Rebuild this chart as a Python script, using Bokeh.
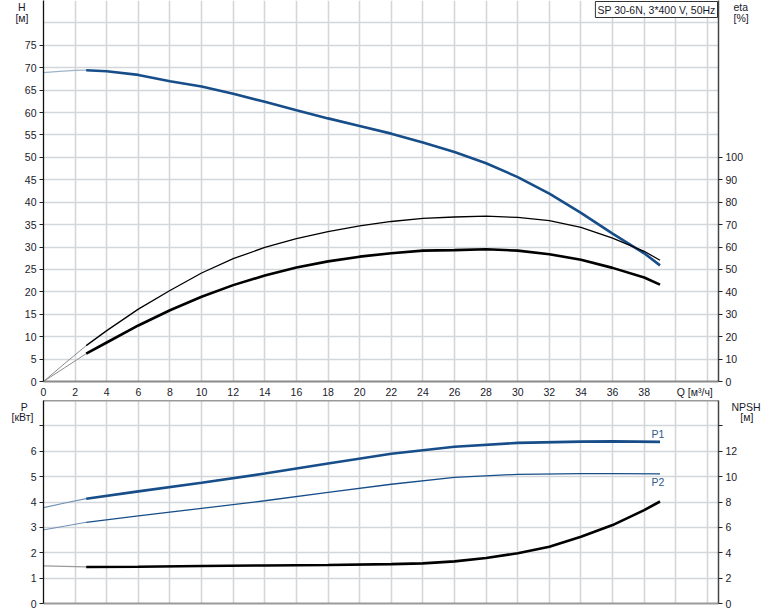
from bokeh.plotting import figure
from bokeh.models import Range1d, LinearAxis, FixedTicker, Label
from bokeh.layouts import column
from bokeh.embed import file_html
from bokeh.resources import INLINE

FONT = "Liberation Sans"
FS = "10.5px"
BLUE = "#174e89"
TXT = "#1a1a2a"
NB = "\u00a0"

# ---------------- data ----------------
# Head H [m] vs Q [m3/h]
q_h_ext = [0, 1, 2, 2.7]
h_ext = [68.9, 69.2, 69.4, 69.45]
q_h = [2.7, 4, 6, 8, 10, 12, 14, 16, 18, 20, 22, 24, 26, 28, 30, 32, 34, 36, 38, 39]
h = [69.45, 69.2, 68.4, 67.0, 65.8, 64.2, 62.4, 60.5, 58.7, 57.0, 55.3, 53.3,
     51.2, 48.7, 45.6, 41.9, 37.6, 33.0, 28.6, 25.9]

# pump efficiency eta [%] (thin)
q_eta_ext = [0, 1.35, 2.7]
eta_p_ext = [0, 8.1, 16.0]
q_eta = [2.7, 4, 6, 8, 10, 12, 14, 16, 18, 20, 22, 24, 26, 28, 30, 32, 34, 36, 38, 39]
eta_p = [16.0, 22.7, 32.3, 40.6, 48.4, 54.8, 59.8, 63.8, 66.9, 69.4, 71.4, 72.8,
         73.4, 73.8, 73.2, 71.8, 68.8, 64.0, 58.1, 54.1]
# total efficiency eta [%] (thick)
eta_t_ext = [0, 6.2, 12.4]
eta_t = [12.4, 17.4, 25.0, 31.8, 37.8, 43.0, 47.3, 50.9, 53.6, 55.7, 57.2, 58.4,
         58.6, 59.0, 58.4, 56.8, 54.3, 50.7, 46.4, 43.2]

# power P [kW]
q_p_ext = [0, 1.35, 2.7]
p1_ext = [3.78, 3.96, 4.13]
p2_ext = [2.9, 3.05, 3.2]
q_p = [2.7, 6, 10, 14, 18, 22, 26, 30, 34, 36, 39]
p1 = [4.13, 4.42, 4.76, 5.12, 5.52, 5.90, 6.18, 6.33, 6.38, 6.39, 6.37]
p2 = [3.2, 3.45, 3.75, 4.05, 4.38, 4.70, 4.97, 5.09, 5.12, 5.12, 5.11]

# NPSH [m]
q_n_ext = [0, 1.35, 2.7]
npsh_ext = [2.96, 2.92, 2.88]
q_n = [2.7, 6, 10, 14, 18, 22, 24, 26, 28, 30, 32, 34, 36, 38, 39]
npsh = [2.88, 2.9, 2.96, 3.0, 3.04, 3.1, 3.16, 3.32, 3.58, 3.96, 4.48, 5.26,
        6.18, 7.36, 8.04]

# ticks / labels
q_grid = list(range(0, 43, 2))
q_ticks = list(range(0, 39, 2))
h_ticks = list(range(0, 80, 5))
h_grid = list(range(0, 81, 5))
eta_ticks = list(range(0, 101, 10))
p_ticks = list(range(0, 8))
npsh_ticks = list(range(0, 15, 2))

q_label = "Q [м³/ч]"
h_label, h_unit = "H", "[м]"
eta_label, eta_unit = "eta", "[%]"
p_label, p_unit = "P", "[кВт]"
n_label, n_unit = "NPSH", "[м]"
title_text = "SP 30-6N, 3*400 V, 50Hz"

Q_MAX = 42.7
H_MAX = 85
P_MAX = 8


def style_axis(ax, line_color, line_width, tick_out=4):
    ax.axis_line_color = line_color
    ax.axis_line_width = line_width
    ax.major_tick_line_color = "#222222"
    ax.major_tick_out = tick_out
    ax.major_tick_in = 0
    ax.minor_tick_line_color = None
    ax.major_label_text_font = FONT
    ax.major_label_text_font_size = FS
    ax.major_label_text_color = TXT
    ax.major_label_standoff = 3


def name_axis(ticks, labels, standoff, range_name=None):
    kw = {"y_range_name": range_name} if range_name else {}
    ax = LinearAxis(ticker=FixedTicker(ticks=ticks), **kw)
    style_axis(ax, None, 1, tick_out=0)
    ax.major_tick_line_color = None
    ax.major_label_overrides = dict(zip(ticks, labels))
    ax.major_label_standoff = standoff
    return ax


XR = Range1d(0, Q_MAX)

# ---------------- top figure ----------------
pt = figure(width=774, height=400, x_range=XR, y_range=Range1d(0, H_MAX),
            output_backend="svg", toolbar_location=None,
            min_border_left=43, min_border_right=56, min_border_top=0,
            min_border_bottom=19)
pt.extra_y_ranges = {"eta": Range1d(0, 2 * H_MAX)}
pt.outline_line_color = None
pt.background_fill_color = "white"
pt.border_fill_color = "white"

for g in pt.xgrid:
    g.ticker = FixedTicker(ticks=q_grid)
for g in pt.ygrid:
    g.ticker = FixedTicker(ticks=h_grid)
pt.grid.grid_line_color = "#d4d7d9"
pt.grid.grid_line_width = 1.6

xa = pt.xaxis[0]
xa.ticker = FixedTicker(ticks=q_ticks + [41.2])
xa.major_label_overrides = {41.2: q_label}
style_axis(xa, "#8a8a8a", 2.2, tick_out=0)
xa.major_label_standoff = 4

ya = pt.yaxis[0]
ya.ticker = FixedTicker(ticks=h_ticks)
style_axis(ya, "#111111", 1.3)
pt.add_layout(name_axis([83.9, 81.2], [h_label + NB, h_unit], -7), "left")

ea = LinearAxis(y_range_name="eta", ticker=FixedTicker(ticks=eta_ticks))
style_axis(ea, "#444444", 1.5)
pt.add_layout(ea, "right")
pt.add_layout(name_axis([167.8, 162.4], [eta_label, eta_unit], -13, "eta"), "right")

pt.line(q_h_ext, h_ext, line_color="#9fb3c8", line_width=1.2)
pt.line(q_h, h, line_color=BLUE, line_width=2.6)
pt.line(q_eta_ext, eta_p_ext, y_range_name="eta", line_color="#8c8c8c", line_width=1)
pt.line(q_eta, eta_p, y_range_name="eta", line_color="#000000", line_width=1.3)
pt.line(q_eta_ext, eta_t_ext, y_range_name="eta", line_color="#8c8c8c", line_width=1)
pt.line(q_eta, eta_t, y_range_name="eta", line_color="#000000", line_width=2.6)

pt.add_layout(Label(x=Q_MAX, y=H_MAX, x_offset=-1, y_offset=-1, text=title_text,
                    text_align="right", text_baseline="top",
                    text_font=FONT, text_font_size=FS, text_color=TXT,
                    border_line_color="#333333", border_line_width=1,
                    background_fill_color="white", padding=2))

# ---------------- bottom figure ----------------
pb = figure(width=774, height=211, x_range=XR, y_range=Range1d(0, P_MAX),
            output_backend="svg", toolbar_location=None,
            min_border_left=43, min_border_right=56, min_border_top=0,
            min_border_bottom=8)
pb.extra_y_ranges = {"npsh": Range1d(0, 2 * P_MAX)}
pb.outline_line_color = None
pb.background_fill_color = "white"
pb.border_fill_color = "white"

for g in pb.xgrid:
    g.ticker = FixedTicker(ticks=q_grid)
for g in pb.ygrid:
    g.ticker = FixedTicker(ticks=p_ticks)
pb.grid.grid_line_color = "#d4d7d9"
pb.grid.grid_line_width = 1.6

bx = pb.xaxis[0]
bx.ticker = FixedTicker(ticks=[])
style_axis(bx, "#9a9a9a", 2.2, tick_out=0)
bx.major_label_standoff = 0

tx = LinearAxis(ticker=FixedTicker(ticks=[]))
style_axis(tx, "#9a9a9a", 2.2, tick_out=0)
tx.major_label_standoff = 0
pb.add_layout(tx, "above")

pa = pb.yaxis[0]
pa.ticker = FixedTicker(ticks=p_ticks)
pa.major_label_overrides = {7: ""}
style_axis(pa, "#111111", 1.3)
pb.add_layout(name_axis([7.80, 7.34], [p_label + NB + NB, p_unit], -6), "left")

na = LinearAxis(y_range_name="npsh", ticker=FixedTicker(ticks=npsh_ticks))
na.major_label_overrides = {14: ""}
style_axis(na, "#444444", 1.5)
pb.add_layout(na, "right")
pb.add_layout(name_axis([15.6, 14.68], [n_label, NB + NB + NB + n_unit], -9, "npsh"), "right")

pb.line(q_p_ext, p1_ext, line_color="#6f8fb3", line_width=1.2)
pb.line(q_p, p1, line_color=BLUE, line_width=2.6)
pb.line(q_p_ext, p2_ext, line_color="#6f8fb3", line_width=1)
pb.line(q_p, p2, line_color=BLUE, line_width=1.3)
pb.line(q_n_ext, npsh_ext, y_range_name="npsh", line_color="#9a9a9a", line_width=1.2)
pb.line(q_n, npsh, y_range_name="npsh", line_color="#000000", line_width=2.6)

for txt, yv, dy in (("P1", p1[-1], 8), ("P2", p2[-1], -8)):
    pb.add_layout(Label(x=q_p[-1], y=yv, x_offset=-2, y_offset=dy, text=txt,
                        text_align="center", text_baseline="middle",
                        text_font=FONT, text_font_size=FS, text_color="#2a5a8c"))

layout = column(pt, pb)
open("out.html", "w").write(file_html(layout, INLINE))
